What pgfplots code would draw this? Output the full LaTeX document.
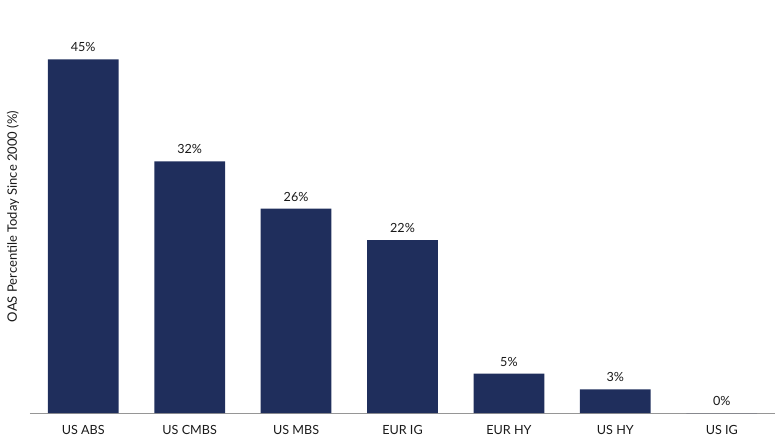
\documentclass[border=0pt]{standalone}
\usepackage{fontspec}
\setmainfont{Lato}
\usepackage{pgfplots}
\pgfplotsset{compat=1.18}
\definecolor{navy}{RGB}{31,46,92}
\definecolor{axisgray}{RGB}{150,150,150}
\begin{document}
\begin{tikzpicture}
\path (-30pt,-27pt) rectangle (750pt,413pt);
\begin{axis}[
  scale only axis,
  width=745pt, height=393pt,
  xmin=-0.5, xmax=6.5,
  ymin=0, ymax=50,
  ybar, bar width=0.665,
  axis x line*=bottom,
  axis y line*=left,
  y axis line style={draw=none},
  ytick=\empty,
  x axis line style={axisgray, line width=0.8pt},
  xtick=data,
  xticklabels={US ABS,US CMBS,US MBS,EUR IG,EUR HY,US HY,US IG},
  x tick label style={font=\fontsize{12.6}{14}\selectfont, text=black!90, yshift=-9pt},
  major tick length=0pt,
  /pgf/number format/assume math mode=true,
  ylabel={OAS Percentile Today Since 2000 (\%)},
  every axis y label/.style={at={(axis description cs:-0.023,0.5)}, rotate=90,
    anchor=center, font=\fontsize{13}{15}\selectfont, text=black!90},
  nodes near coords={\pgfmathprintnumber{\pgfplotspointmeta}\%},
  nodes near coords style={font=\fontsize{12.6}{14}\selectfont, text=black!90, anchor=south, yshift=4pt},
  clip=false,
]
\addplot[fill=navy, draw=none, bar shift=0pt]
  coordinates {(0,45) (1,32) (2,26) (3,22) (4,5) (5,3) (6,0)};
\end{axis}
\end{tikzpicture}
\end{document}
